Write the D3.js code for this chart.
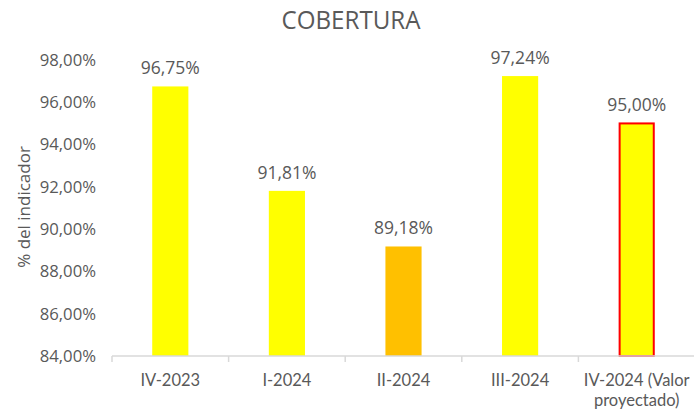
<!DOCTYPE html>
<html>
<head>
<meta charset="utf-8">
<script src="https://cdn.jsdelivr.net/npm/d3@7"></script>
<style>
  html, body { margin: 0; padding: 0; background: #ffffff; }
</style>
</head>
<body>
<svg id="chart" width="694" height="414" font-family="'Open Sans', 'Liberation Sans', sans-serif"></svg>
<script>
const categories = ["IV-2023", "I-2024", "II-2024", "III-2024", "IV-2024 (Valor proyectado)"];
const categoryLines = [["IV-2023"], ["I-2024"], ["II-2024"], ["III-2024"], ["IV-2024 (Valor", "proyectado)"]];
const values = [96.75, 91.81, 89.18, 97.24, 95.00];
const valueLabels = ["96,75%", "91,81%", "89,18%", "97,24%", "95,00%"];
const barFills = ["#FFFF00", "#FFFF00", "#FFC000", "#FFFF00", "#FFFF00"];
const barStrokes = ["none", "none", "none", "none", "#FF0000"];
const yTicks = [84, 86, 88, 90, 92, 94, 96, 98];
const yTickLabels = ["84,00%", "86,00%", "88,00%", "90,00%", "92,00%", "94,00%", "96,00%", "98,00%"];
const title = "COBERTURA";
const yTitle = "% del indicador";

const svg = d3.select("#chart");
const textColor = "#595959";

const x = d3.scaleBand().domain(categories).range([112, 695]).paddingInner(0.69).paddingOuter(0.345);
const y = d3.scaleLinear().domain([84, 98]).range([356, 60]);

// Title
svg.append("text")
  .attr("x", 351).attr("y", 29)
  .attr("text-anchor", "middle")
  .attr("font-size", 25)
  .attr("fill", textColor)
  .attr("textLength", 139)
  .attr("lengthAdjust", "spacingAndGlyphs")
  .text(title);

// Y axis title
svg.append("text")
  .attr("transform", "translate(30,207) rotate(-90)")
  .attr("text-anchor", "middle")
  .attr("font-size", 17)
  .attr("fill", textColor)
  .text(yTitle);

// Y axis tick labels (no line)
const yAxis = d3.axisLeft(y).tickValues(yTicks).tickSize(0).tickPadding(0)
  .tickFormat((d, i) => yTickLabels[i]);
const gy = svg.append("g").attr("transform", "translate(96,0)").call(yAxis);
gy.attr("font-family", null).attr("font-size", null);
gy.select(".domain").remove();
gy.selectAll("text").attr("font-size", 16.7).attr("fill", textColor);

// Bars
svg.append("g").selectAll("rect").data(values).join("rect")
  .attr("x", (d, i) => x(categories[i]) + (barStrokes[i] !== "none" ? 1 : 0))
  .attr("y", d => y(d))
  .attr("width", (d, i) => x.bandwidth() - (barStrokes[i] !== "none" ? 2 : 0))
  .attr("height", d => y(84) - y(d))
  .attr("fill", (d, i) => barFills[i])
  .attr("stroke", (d, i) => barStrokes[i])
  .attr("stroke-width", 2);

// Data labels
svg.append("g").selectAll("text").data(values).join("text")
  .attr("x", (d, i) => x(categories[i]) + x.bandwidth() / 2)
  .attr("y", d => y(d) - 12)
  .attr("text-anchor", "middle")
  .attr("font-size", 17.5)
  .attr("fill", textColor)
  .text((d, i) => valueLabels[i]);

// X axis
const xAxis = d3.axisBottom(x).tickSize(0).tickFormat("");
const gx = svg.append("g").attr("transform", "translate(0,356)").call(xAxis);
gx.select(".domain").attr("stroke", "#D9D9D9").attr("stroke-width", 1.5).attr("d", "M112,0H695");
gx.selectAll(".tick").remove();
const step = x.step();
const boundaries = d3.range(categories.length + 1).map(i => 112 + i * step);
gx.selectAll("line.sep").data(boundaries).join("line")
  .attr("class", "sep")
  .attr("x1", d => d).attr("x2", d => d)
  .attr("y1", 0).attr("y2", 6)
  .attr("stroke", "#D9D9D9").attr("stroke-width", 1.5);

// X labels (one text per line)
const xLabelData = [];
categoryLines.forEach((lines, i) => lines.forEach((ln, j) => xLabelData.push({ i, j, ln })));
svg.append("g").selectAll("text").data(xLabelData).join("text")
  .attr("x", d => x(categories[d.i]) + x.bandwidth() / 2)
  .attr("y", d => 386 + d.j * 20)
  .attr("text-anchor", "middle")
  .style("font-family", "Lato, 'Open Sans', sans-serif")
  .attr("font-size", 16.5)
  .attr("fill", textColor)
  .text(d => d.ln);
</script>
</body>
</html>
